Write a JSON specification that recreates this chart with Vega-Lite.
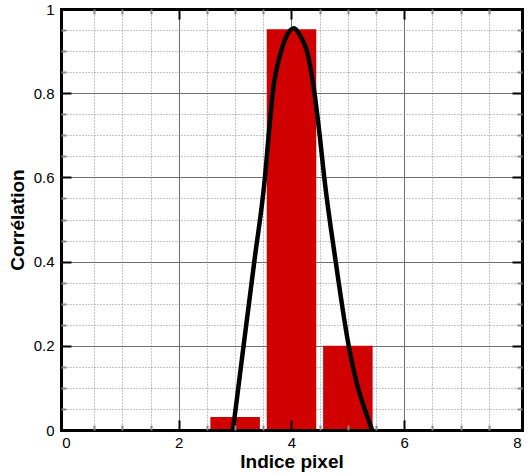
{
  "$schema": "https://vega.github.io/schema/vega-lite/v6.json",
  "width": 461,
  "height": 421,
  "autosize": {"type": "none"},
  "padding": {"left": 61, "top": 9, "right": 9, "bottom": 45},
  "background": "white",
  "config": {
    "view": {"stroke": null},
    "axis": {"labelFont": "Liberation Sans", "titleFont": "Liberation Sans", "labelColor": "black", "titleColor": "black", "domainCap": "square"}
  },
  "datasets": {
    "bars": [
      {"pixel": 3, "corr": 0.031},
      {"pixel": 4, "corr": 0.952},
      {"pixel": 5, "corr": 0.2}
    ],
    "curve": [
      {"px": 2.962, "fit": 0},
      {"px": 3.15, "fit": 0.2},
      {"px": 3.34, "fit": 0.4},
      {"px": 3.529, "fit": 0.6},
      {"px": 3.595, "fit": 0.7},
      {"px": 3.667, "fit": 0.8},
      {"px": 3.818, "fit": 0.9},
      {"px": 3.9, "fit": 0.932},
      {"px": 4.043, "fit": 0.954},
      {"px": 4.16, "fit": 0.935},
      {"px": 4.274, "fit": 0.9},
      {"px": 4.408, "fit": 0.8},
      {"px": 4.5, "fit": 0.7},
      {"px": 4.581, "fit": 0.6},
      {"px": 4.784, "fit": 0.4},
      {"px": 5.015, "fit": 0.2},
      {"px": 5.159, "fit": 0.111},
      {"px": 5.304, "fit": 0.0475},
      {"px": 5.432, "fit": 0}
    ]
  },
  "resolve": {"axis": {"x": "independent", "y": "independent"}},
  "layer": [
    {
      "data": {"name": "bars"},
      "mark": {"type": "bar", "color": "#d00000", "size": 49.5},
      "encoding": {
        "x": {"field": "pixel", "type": "quantitative", "scale": {"domain": [0, 8], "nice": false, "zero": false},
          "axis": {"orient": "bottom", "values": [0.5, 1, 1.5, 2.5, 3, 3.5, 4.5, 5, 5.5, 6.5, 7, 7.5], "grid": true, "gridDash": [1, 2], "gridColor": "#888888", "gridWidth": 1, "labels": false, "ticks": false, "domain": false, "title": null, "zindex": 0}},
        "y": {"field": "corr", "type": "quantitative", "scale": {"domain": [0, 1], "nice": false},
          "axis": {"orient": "left", "values": [0.05, 0.1, 0.15, 0.25, 0.3, 0.35, 0.45, 0.5, 0.55, 0.65, 0.7, 0.75, 0.85, 0.9, 0.95], "grid": true, "gridDash": [1, 2], "gridColor": "#888888", "gridWidth": 1, "labels": false, "ticks": false, "domain": false, "title": null, "zindex": 0}}
      }
    },
    {
      "data": {"name": "curve"},
      "mark": {"type": "line", "color": "black", "strokeWidth": 4.5, "interpolate": "monotone"},
      "encoding": {
        "x": {"field": "px", "type": "quantitative",
          "axis": {"orient": "bottom", "values": [2, 4, 6], "grid": true, "gridColor": "#707070", "gridWidth": 1, "labels": false, "ticks": false, "domain": false, "title": null, "zindex": 0}},
        "y": {"field": "fit", "type": "quantitative",
          "axis": {"orient": "left", "values": [0.2, 0.4, 0.6, 0.8], "grid": true, "gridColor": "#707070", "gridWidth": 1, "labels": false, "ticks": false, "domain": false, "title": null, "zindex": 0}}
      }
    },
    {
      "data": {"name": "bars"},
      "mark": {"type": "point", "opacity": 0},
      "encoding": {
        "x": {"field": "pixel", "type": "quantitative",
          "axis": {"orient": "bottom", "values": [0, 2, 4, 6, 8], "format": "~g", "grid": false, "ticks": false, "domain": false, "labels": true, "labelFontSize": 15, "labelPadding": 5, "labelFlush": false, "title": "Indice pixel", "titleFontSize": 19, "titleFontWeight": "bold", "titlePadding": 2, "zindex": 1}},
        "y": {"field": "corr", "type": "quantitative",
          "axis": {"orient": "left", "values": [0, 0.2, 0.4, 0.6, 0.8, 1], "format": "~g", "grid": false, "ticks": false, "domain": false, "labels": true, "labelFontSize": 15, "labelPadding": 7, "labelFlush": false, "title": "Corrélation", "titleFontSize": 19, "titleFontWeight": "bold", "titlePadding": 6, "zindex": 1}}
      }
    },
    {
      "data": {"name": "bars"},
      "mark": {"type": "point", "opacity": 0},
      "encoding": {
        "x": {"field": "pixel", "type": "quantitative",
          "axis": {"orient": "bottom", "values": [2, 4, 6], "grid": false, "labels": false, "ticks": true, "tickSize": -10, "tickWidth": 2, "tickColor": "black", "domain": true, "domainWidth": 3, "domainColor": "black", "title": null, "zindex": 1}},
        "y": {"field": "corr", "type": "quantitative",
          "axis": {"orient": "left", "values": [0.2, 0.4, 0.6, 0.8], "grid": false, "labels": false, "ticks": true, "tickSize": -10, "tickWidth": 2, "tickColor": "black", "domain": true, "domainWidth": 3, "domainColor": "black", "title": null, "zindex": 1}}
      }
    },
    {
      "data": {"name": "bars"},
      "mark": {"type": "point", "opacity": 0},
      "encoding": {
        "x": {"field": "pixel", "type": "quantitative",
          "axis": {"orient": "bottom", "values": [0.5, 1, 1.5, 2.5, 3, 3.5, 4.5, 5, 5.5, 6.5, 7, 7.5], "grid": false, "labels": false, "ticks": true, "tickSize": -5, "tickWidth": 2, "tickColor": "#888888", "domain": false, "title": null, "zindex": 1}},
        "y": {"field": "corr", "type": "quantitative",
          "axis": {"orient": "left", "values": [0.05, 0.1, 0.15, 0.25, 0.3, 0.35, 0.45, 0.5, 0.55, 0.65, 0.7, 0.75, 0.85, 0.9, 0.95], "grid": false, "labels": false, "ticks": true, "tickSize": -5, "tickWidth": 2, "tickColor": "#888888", "domain": false, "title": null, "zindex": 1}}
      }
    },
    {
      "data": {"name": "bars"},
      "mark": {"type": "point", "opacity": 0},
      "encoding": {
        "x": {"field": "pixel", "type": "quantitative",
          "axis": {"orient": "top", "values": [2, 4, 6], "grid": false, "labels": false, "ticks": true, "tickSize": -10, "tickWidth": 2, "tickColor": "black", "domain": true, "domainWidth": 3, "domainColor": "black", "title": null, "zindex": 1}},
        "y": {"field": "corr", "type": "quantitative",
          "axis": {"orient": "right", "values": [0.2, 0.4, 0.6, 0.8], "grid": false, "labels": false, "ticks": true, "tickSize": -10, "tickWidth": 2, "tickColor": "black", "domain": true, "domainWidth": 3, "domainColor": "black", "title": null, "zindex": 1}}
      }
    },
    {
      "data": {"name": "bars"},
      "mark": {"type": "point", "opacity": 0},
      "encoding": {
        "x": {"field": "pixel", "type": "quantitative",
          "axis": {"orient": "top", "values": [0.5, 1, 1.5, 2.5, 3, 3.5, 4.5, 5, 5.5, 6.5, 7, 7.5], "grid": false, "labels": false, "ticks": true, "tickSize": -5, "tickWidth": 2, "tickColor": "#888888", "domain": false, "title": null, "zindex": 1}},
        "y": {"field": "corr", "type": "quantitative",
          "axis": {"orient": "right", "values": [0.05, 0.1, 0.15, 0.25, 0.3, 0.35, 0.45, 0.5, 0.55, 0.65, 0.7, 0.75, 0.85, 0.9, 0.95], "grid": false, "labels": false, "ticks": true, "tickSize": -5, "tickWidth": 2, "tickColor": "#888888", "domain": false, "title": null, "zindex": 1}}
      }
    }
  ]
}
